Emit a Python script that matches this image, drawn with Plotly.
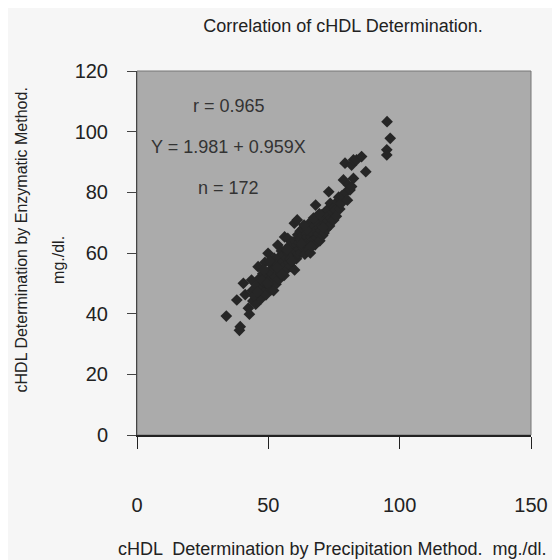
import plotly.graph_objects as go

# cHDL by precipitation method (x) vs enzymatic method (y), mg/dl
x_precip = [34.0, 39.3, 39.0, 38.0, 40.5, 42.4, 41.2, 43.6, 42.8, 44.1,
            43.9, 45.2, 45.7, 46.1, 46.3, 46.8, 47.2, 47.4, 47.9, 48.3,
            48.6, 48.7, 49.1, 49.4, 49.9, 50.2, 50.4, 50.8, 51.1, 51.3,
            51.6, 51.9, 52.2, 52.4, 52.7, 52.9, 53.2, 53.6, 53.8, 54.0,
            54.3, 54.5, 54.8, 55.0, 55.3, 55.5, 55.8, 56.0, 56.2, 56.4,
            56.7, 56.9, 57.1, 57.4, 57.6, 57.8, 58.1, 58.3, 58.5, 58.8,
            59.0, 59.2, 59.5, 59.9, 59.7, 60.0, 60.2, 60.4, 60.7, 60.9,
            61.0, 61.2, 61.4, 61.6, 61.9, 62.1, 62.3, 62.5, 62.8, 63.0,
            63.2, 63.4, 63.7, 63.9, 64.2, 64.4, 64.6, 64.9, 65.1, 65.3,
            65.5, 65.8, 66.0, 66.2, 66.5, 66.7, 66.9, 67.1, 67.4, 67.6,
            67.8, 68.0, 68.2, 68.5, 68.6, 68.9, 69.1, 69.3, 69.6, 69.8,
            70.0, 70.3, 70.5, 70.7, 71.0, 71.2, 71.5, 71.7, 72.0, 72.4,
            72.6, 72.9, 73.0, 73.3, 73.6, 73.8, 74.2, 74.5, 74.9, 75.2,
            75.5, 75.9, 76.3, 76.8, 77.2, 77.6, 78.0, 78.6, 79.2, 79.5,
            80.1, 80.5, 81.1, 81.7, 81.7, 82.4, 82.4, 83.6, 85.5, 87.1,
            95.2, 96.4, 95.1, 95.1, 44.6, 45.9, 47.7, 49.6, 50.6, 53.4,
            55.1, 57.2, 58.9, 62.6, 64.7, 66.3, 67.2, 69.4, 70.9, 52.0,
            48.2, 63.6]
y_enzym = [39.2, 35.7, 34.5, 44.5, 50.0, 41.8, 46.3, 51.1, 39.8, 44.2,
           47.6, 43.1, 49.4, 55.5, 46.0, 51.8, 44.9, 48.3, 53.2, 47.1,
           50.4, 56.9, 46.2, 52.7, 59.9, 49.3, 54.1, 51.5, 47.9, 56.2,
           53.0, 50.6, 58.3, 54.8, 52.1, 49.7, 56.6, 62.6, 53.9, 51.2,
           58.8, 55.4, 52.8, 60.7, 57.1, 54.3, 59.4, 52.6, 65.3, 56.0,
           61.2, 58.2, 54.7, 64.8, 59.9, 56.8, 62.4, 58.0, 55.6, 60.9,
           63.7, 57.4, 61.8, 69.8, 59.3, 54.4, 64.1, 60.6, 58.1, 62.9,
           70.9, 66.0, 59.8, 63.5, 61.3, 67.2, 64.6, 60.2, 62.4, 65.8,
           68.1, 61.7, 64.0, 59.6, 68.7, 66.3, 62.9, 65.2, 69.4, 63.6,
           61.2, 67.0, 60.0, 65.5, 68.6, 63.9, 70.8, 66.4, 64.4, 69.0,
           62.7, 75.8, 67.5, 65.1, 69.8, 71.7, 66.2, 68.3, 64.0, 70.4,
           67.3, 72.6, 69.1, 65.8, 71.1, 66.6, 73.4, 69.6, 67.9, 74.2,
           70.5, 72.4, 80.2, 68.9, 76.4, 71.3, 70.9, 73.3, 70.9, 75.1,
           74.2, 72.1, 77.0, 78.4, 74.5, 76.2, 78.8, 84.1, 89.6, 80.0,
           77.4, 82.4, 80.8, 89.0, 81.9, 84.6, 90.7, 90.7, 91.8, 86.8,
           103.3, 97.8, 94.0, 92.3, 45.9, 47.2, 50.9, 50.0, 57.4, 55.2,
           53.0, 61.1, 57.3, 63.1, 67.6, 62.2, 71.5, 72.9, 68.4, 47.6,
           54.5, 69.2]

x_ticks = [0, 50, 100, 150]
y_ticks = [0, 20, 40, 60, 80, 100, 120]

stats_text = ["r = 0.965", "Y = 1.981 + 0.959X", "n = 172"]
stats_y = [108.5, 95.0, 81.4]

FONT = "Liberation Sans, Arial, sans-serif"
INK = "#262626"
W, H = 552, 552  # page adds an 8px body margin

fig = go.Figure()
fig.add_trace(go.Scatter(
    x=x_precip, y=y_enzym, mode="markers",
    marker=dict(symbol="diamond", size=9, color=INK, line=dict(width=0)),
    showlegend=False, hoverinfo="x+y",
))

for t, yy in zip(stats_text, stats_y):
    fig.add_annotation(x=34.9, y=yy, xref="x", yref="y", text=t,
                       xanchor="center", yanchor="middle",
                       showarrow=False, font=dict(family=FONT, size=18, color="#333"))

fig.add_annotation(x=0.496, y=-0.313, xref="paper", yref="paper",
                   xanchor="center", yanchor="middle",
                   text="cHDL  Determination by Precipitation Method.  mg./dl.",
                   showarrow=False, font=dict(family=FONT, size=18, color="#222"))
fig.add_annotation(x=-0.293, y=0.536, xref="paper", yref="paper",
                   xanchor="center", yanchor="middle",
                   text="cHDL Determination by Enzymatic Method.", textangle=-90,
                   showarrow=False, font=dict(family=FONT, size=16, color="#222"))
fig.add_annotation(x=-0.198, y=0.481, xref="paper", yref="paper",
                   xanchor="center", yanchor="middle",
                   text="mg./dl.", textangle=-90,
                   showarrow=False, font=dict(family=FONT, size=16, color="#222"))

fig.update_layout(
    width=W, height=H,
    margin=dict(l=129, r=24, t=63, b=125),
    paper_bgcolor="#f6f6f6",
    plot_bgcolor="#ababab",
    title=dict(text="Correlation of cHDL Determination.", x=335/W, xanchor="center",
               y=1-18/H, yanchor="middle", font=dict(family=FONT, size=18, color="#222")),
    xaxis=dict(range=[0, 150], tickvals=x_ticks, ticks="outside", ticklen=12,
               tickcolor="#222", showgrid=False, zeroline=False,
               showline=True, linecolor="#222", linewidth=2, mirror=False,
               ticklabelstandoff=39,
               tickfont=dict(family=FONT, size=20, color="#222")),
    yaxis=dict(range=[0, 120], tickvals=y_ticks, ticks="outside", ticklen=9,
               tickcolor="#444", showgrid=False, zeroline=False,
               showline=True, linecolor="#444", linewidth=1,
               ticklabelstandoff=15,
               tickfont=dict(family=FONT, size=20, color="#222")),
)
fig.add_shape(type="rect", xref="paper", yref="paper", x0=0, y0=0, x1=1, y1=1,
              line=dict(color="#777", width=1), layer="below")

fig.write_html("out.html")
